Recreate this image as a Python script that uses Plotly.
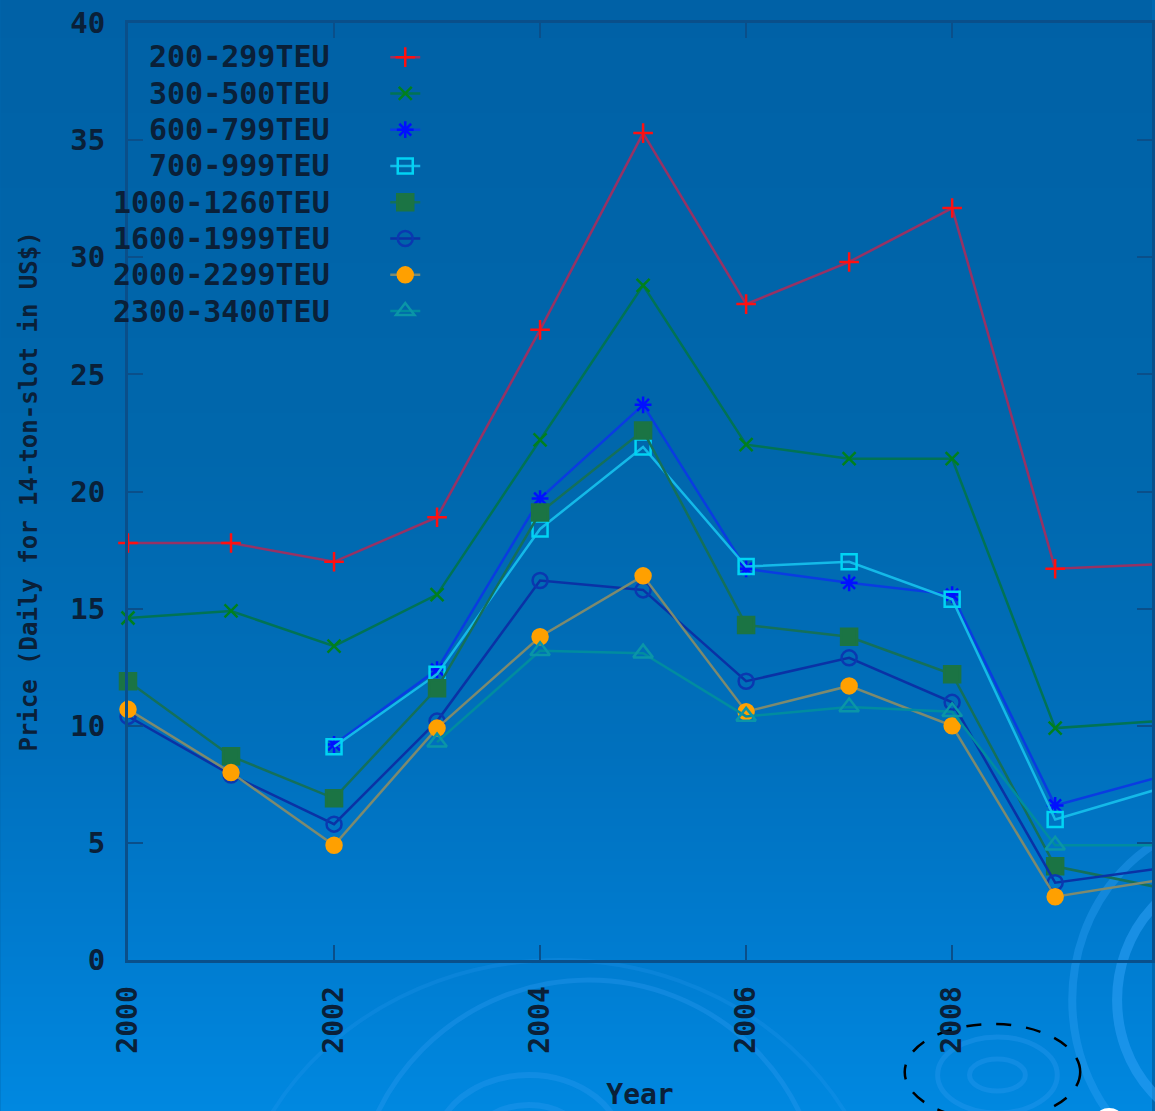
import base64
import struct
import zlib

import plotly.graph_objects as go

# ---------------- data ----------------
years = [2000, 2001, 2002, 2003, 2004, 2005, 2006, 2007, 2008, 2009, 2010]
labels = ["200-299TEU", "300-500TEU", "600-799TEU", "700-999TEU",
          "1000-1260TEU", "1600-1999TEU", "2000-2299TEU", "2300-3400TEU"]
s200 = [17.8, 17.8, 17.0, 18.9, 26.9, 35.3, 28.0, 29.8, 32.1, 16.7, 16.9]
s300 = [14.6, 14.9, 13.4, 15.6, 22.2, 28.8, 22.0, 21.4, 21.4, 9.9, 10.2]
s600 = [None, None, 9.2, 12.4, 19.7, 23.7, 16.7, 16.1, 15.6, 6.6, 7.8]
s700 = [None, None, 9.1, 12.2, 18.4, 21.9, 16.8, 17.0, 15.4, 6.0, 7.3]
s1000 = [11.9, 8.7, 6.9, 11.6, 19.1, 22.6, 14.3, 13.8, 12.2, 4.0, 3.1]
s1600 = [10.4, 7.9, 5.8, 10.2, 16.2, 15.8, 11.9, 12.9, 11.0, 3.3, 3.9]
s2000 = [10.7, 8.0, 4.9, 9.9, 13.8, 16.4, 10.6, 11.7, 10.0, 2.7, 3.4]
s2300 = [None, None, None, 9.3, 13.2, 13.1, 10.4, 10.8, 10.6, 4.9, 4.9]
series = [s200, s300, s600, s700, s1000, s1600, s2000, s2300]

y_ticks = [0, 5, 10, 15, 20, 25, 30, 35, 40]
x_ticks = [2000, 2002, 2004, 2006, 2008, 2010]

# ---------------- styles ----------------
W, H = 1155, 1111
ML, MT, MB, MR = 128, 23, 151, 0
PW, PH = W - ML - MR, H - MT - MB

line_colors = ["rgb(150,50,100)", "rgb(0,115,85)", "rgb(10,60,225)", "rgb(20,185,232)",
               "rgb(20,112,90)", "rgb(10,50,165)", "rgb(125,138,110)", "rgb(0,140,160)"]
marker_colors = ["#ff1010", "#00801e", "#0010ff", "#00d4f4",
                 "#1b7444", "#0a38b0", "#ffa000", "#0a95a8"]
symbols = ["cross-thin", "x-thin", "asterisk-open", "square-open",
           "square", "circle-open", "circle", "triangle-up-open"]
sizes = [14, 13, 14, 15, 16, 15, 15, 17]

TXT = "#0a2038"
MONO = "DejaVu Sans Mono"
AX = "#0a4f8a"


def png_gradient(stops, height):
    rows = []
    for yy in range(height):
        for i in range(len(stops) - 1):
            y0, c0 = stops[i]
            y1, c1 = stops[i + 1]
            if y0 <= yy <= y1:
                t = (yy - y0) / (y1 - y0)
                rows.append(tuple(int(round(a + (b - a) * t)) for a, b in zip(c0, c1)))
                break
    raw = b"".join(b"\x00" + bytes(c) * 4 for c in rows)

    def chunk(t, d):
        c = t + d
        return struct.pack(">I", len(d)) + c + struct.pack(">I", zlib.crc32(c) & 0xffffffff)

    ihdr = struct.pack(">IIBBBBB", 4, height, 8, 2, 0, 0, 0)
    data = (b"\x89PNG\r\n\x1a\n" + chunk(b"IHDR", ihdr) +
            chunk(b"IDAT", zlib.compress(raw)) + chunk(b"IEND", b""))
    return "data:image/png;base64," + base64.b64encode(data).decode()


grad = png_gradient([(0, (0, 97, 166)), (450, (0, 103, 172)), (750, (0, 112, 189)),
                     (950, (0, 124, 208)), (1110, (0, 136, 224))], H)


def px(x):
    return (x - ML) / PW


def py(y):
    return (H - MB - y) / PH


fig = go.Figure()
for name, vals, lc, mc, sym, sz in zip(labels, series, line_colors, marker_colors, symbols, sizes):
    fig.add_trace(go.Scatter(
        x=years, y=vals, mode="lines+markers", name=" ",
        hovertemplate=name + ": %{y}<extra></extra>",
        line=dict(color=lc, width=2.5),
        marker=dict(symbol=sym, size=sz, color=mc, line=dict(color=mc, width=2.5)),
        cliponaxis=False, connectgaps=False,
    ))

# legend labels (text to the left of the samples, gnuplot-style)
annotations = []
for i, name in enumerate(labels):
    annotations.append(dict(
        x=px(333), y=py(57 + i * 36.3), xref="paper", yref="paper",
        text=name, showarrow=False, xanchor="right", yanchor="middle",
        font=dict(family=MONO, size=30, color=TXT, weight="bold"),
    ))

# decorative background rings
shapes = []


def ring(cx, cy, rx, ry, color, width, dash="solid"):
    shapes.append(dict(type="circle", xref="paper", yref="paper",
                       x0=px(cx - rx), x1=px(cx + rx), y0=py(cy + ry), y1=py(cy - ry),
                       line=dict(color=color, width=width, dash=dash), layer="below"))


faint = "rgba(45,155,240,0.35)"
ring(590, 1215, 235, 235, faint, 5)
ring(560, 1260, 330, 300, "rgba(45,155,240,0.22)", 4)
ring(530, 1150, 95, 75, faint, 6)
ring(530, 1150, 60, 45, faint, 6)
ring(1240, 1000, 120, 130, "rgba(45,160,245,0.55)", 10)
ring(1240, 1000, 165, 180, "rgba(45,160,245,0.40)", 8)
ring(1000, 1075, 60, 38, faint, 5)
ring(1000, 1075, 28, 16, faint, 5)
ring(995, 1072, 88, 48, "black", 2.5, "longdash")
ring(1112, 1116, 12, 8, "white", 0)
shapes[-1]["fillcolor"] = "white"

fig.update_layout(
    width=W, height=H,
    margin=dict(l=ML, r=MR, t=MT, b=MB, pad=0),
    paper_bgcolor="#0068b0", plot_bgcolor="rgba(0,0,0,0)",
    images=[dict(source=grad, xref="paper", yref="paper", x=px(0), y=py(0),
                 sizex=W / PW, sizey=H / PH, xanchor="left", yanchor="top",
                 sizing="stretch", layer="below")],
    shapes=shapes,
    annotations=annotations,
    showlegend=True,
    legend=dict(x=px(386), y=py(34), xanchor="left", yanchor="top",
                bgcolor="rgba(0,0,0,0)", borderwidth=0,
                font=dict(family=MONO, size=25.6, color=TXT),
                itemsizing="trace"),
    xaxis=dict(range=[2000, 2009.94], tickvals=x_ticks, ticktext=[str(v) for v in x_ticks],
               ticks="inside", ticklen=15, tickwidth=2, tickcolor=AX,
               showline=True, linecolor=AX, linewidth=3, mirror="ticks",
               showgrid=False, zeroline=False, tickangle=-90, ticklabelstandoff=12,
               tickfont=dict(family=MONO, size=28, color=TXT, weight="bold"),
               title=dict(text="Year", standoff=38,
                          font=dict(family=MONO, size=28, color=TXT, weight="bold"))),
    yaxis=dict(range=[0, 40], tickvals=y_ticks, ticktext=[str(v) for v in y_ticks],
               ticks="inside", ticklen=15, tickwidth=2, tickcolor=AX,
               showline=True, linecolor=AX, linewidth=3, mirror="ticks",
               showgrid=False, zeroline=False, ticklabelstandoff=14,
               tickfont=dict(family=MONO, size=29, color=TXT, weight="bold"),
               title=dict(text="Price (Daily for 14-ton-slot in US$)", standoff=26,
                          font=dict(family=MONO, size=24, color=TXT, weight="bold"))),
)

fig.write_html("out.html", config={"displayModeBar": False},
               post_script="document.body.style.margin='0';")
